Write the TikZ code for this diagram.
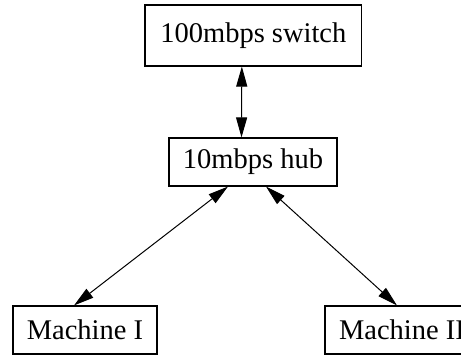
\documentclass[tikz,border=0pt]{standalone}
\usepackage{fontspec}
\setmainfont{Liberation Serif}
\usetikzlibrary{arrows.meta}
\begin{document}
\begin{tikzpicture}[x=1pt,y=1pt,
  netbox/.style={draw, line width=1.1pt, inner sep=0pt, minimum height=48pt,
    font=\fontsize{28.5}{31}\selectfont},
  link/.style={line width=1pt, {Triangle[length=20pt,width=11pt]}-{Triangle[length=20pt,width=11pt]}}]
  \useasboundingbox (0,0) rectangle (461,356);
  \clip (0,0) rectangle (461,356);
  % devices
  \node[netbox, minimum width=216.7pt, minimum height=61pt] (switch) at (253.35,320.5) {100mbps switch};
  \node[netbox, minimum width=168pt] (hub) at (253,194) {10mbps hub};
  \node[netbox, minimum width=144pt] (m1) at (85,26) {Machine I};
  \node[netbox, minimum width=154pt] (m2) at (402,26) {Machine II};
  % links
  \draw[link] ([xshift=-11.5pt]switch.south) -- ([xshift=-11.5pt]hub.north);
  \draw[link] ([xshift=-25pt]hub.south) -- ([xshift=-11pt]m1.north);
  \draw[link] ([xshift=13pt]hub.south) -- ([xshift=-5pt]m2.north);
\end{tikzpicture}
\end{document}
